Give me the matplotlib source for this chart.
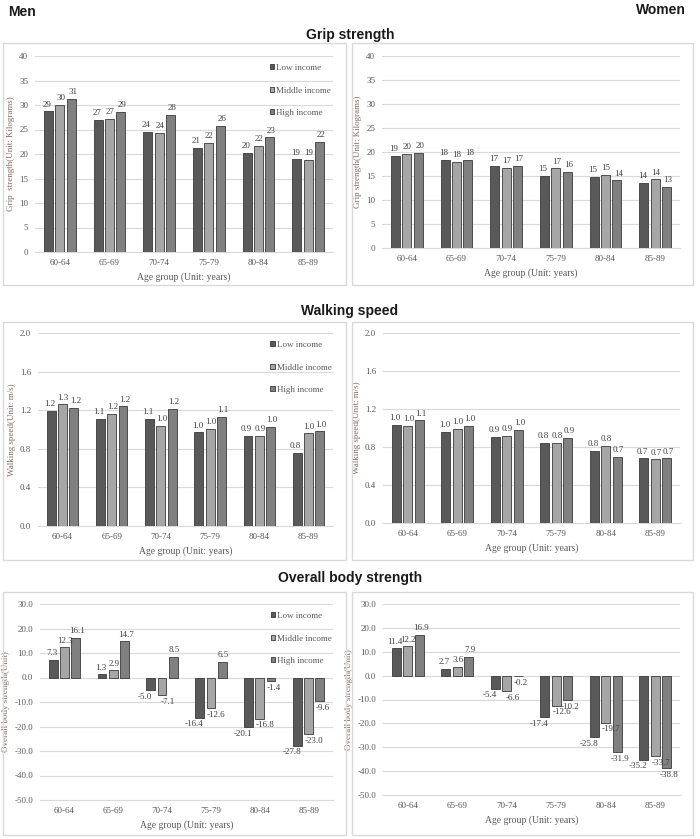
import numpy as np
import matplotlib
matplotlib.use("Agg")
import matplotlib.pyplot as plt
from matplotlib.patches import Rectangle

ages = ["60-64", "65-69", "70-74", "75-79", "80-84", "85-89"]
series = ["Low income", "Middle income", "High income"]

grip_men_low = [28.7, 27.0, 24.5, 21.3, 20.2, 18.9]
grip_men_mid = [30.0, 27.2, 24.3, 22.3, 21.6, 18.8]
grip_men_high = [31.2, 28.6, 28.0, 25.8, 23.4, 22.4]
grip_women_low = [19.2, 18.4, 17.1, 15.1, 14.8, 13.6]
grip_women_mid = [19.6, 17.9, 16.7, 16.6, 15.2, 14.3]
grip_women_high = [19.8, 18.4, 17.1, 15.9, 14.1, 12.7]

walk_men_low = [1.19, 1.11, 1.11, 0.97, 0.93, 0.76]
walk_men_mid = [1.26, 1.16, 1.04, 1.01, 0.93, 0.96]
walk_men_high = [1.22, 1.24, 1.21, 1.13, 1.03, 0.98]
walk_women_low = [1.03, 0.96, 0.91, 0.84, 0.76, 0.68]
walk_women_mid = [1.02, 0.99, 0.92, 0.84, 0.81, 0.67]
walk_women_high = [1.08, 1.02, 0.98, 0.90, 0.70, 0.68]

body_men_low = [7.3, 1.3, -5.0, -16.4, -20.1, -27.8]
body_men_mid = [12.3, 2.9, -7.1, -12.6, -16.8, -23.0]
body_men_high = [16.1, 14.7, 8.5, 6.5, -1.4, -9.6]
body_women_low = [11.4, 2.7, -5.4, -17.4, -25.8, -35.2]
body_women_mid = [12.2, 3.6, -6.6, -12.6, -19.7, -33.7]
body_women_high = [16.9, 7.9, -0.2, -10.2, -31.9, -38.8]

colors = ["#595959", "#a6a6a6", "#808080"]
serif = "Liberation Serif"
W, H = 700, 839

fig = plt.figure(figsize=(7, 8.39), dpi=100)


def px_axes(x0, y0, x1, y1):
    return fig.add_axes([x0 / W, 1 - y1 / H, (x1 - x0) / W, (y1 - y0) / H])


def box(x0, y0, x1, y1):
    fig.patches.append(Rectangle((x0 / W, 1 - y1 / H), (x1 - x0) / W, (y1 - y0) / H,
                                 transform=fig.transFigure, fill=False,
                                 edgecolor="#d9d9d9", linewidth=1.0))


def panel(ax, data, ylim, yticks, fmt, ylabel, legend=False):
    x = np.arange(len(ages))
    w, off = 0.18, 0.23
    pos_dx = [-1, 0.5, 1]
    neg_dx = [-4, 4, 2]  # negative labels get nudged apart a bit
    for i, vals in enumerate(data):
        bars = ax.bar(x + (i - 1) * off, vals, w, color=colors[i],
                      edgecolor="#3a3a3a", linewidth=0.6, label=series[i], zorder=3)
        for b, v in zip(bars, vals):
            xc = b.get_x() + b.get_width() / 2
            if v >= 0:
                ax.annotate(fmt.format(v), (xc, v), xytext=(pos_dx[i], 2), textcoords="offset points",
                            ha="center", va="bottom", fontsize=6.5, family=serif, color="#404040",
                            zorder=6)
            else:
                ax.annotate(fmt.format(v), (xc, v), xytext=(neg_dx[i], -2), textcoords="offset points",
                            ha="center", va="top", fontsize=6.5, family=serif, color="#404040",
                            zorder=6)
    for s in ["top", "right", "left"]:
        ax.spines[s].set_visible(False)
    ax.spines["bottom"].set_color("#d9d9d9")
    ax.set_xlim(-0.5, len(ages) - 0.5)
    ax.set_ylim(*ylim)
    ax.set_yticks(yticks)
    ax.set_yticklabels([fmt.format(t) for t in yticks], family=serif, fontsize=6.5, color="#595959")
    ax.set_xticks(x)
    ax.set_xticklabels(ages, family=serif, fontsize=6.5, color="#595959")
    ax.tick_params(length=0, pad=5)
    ax.grid(axis="y", color="#d9d9d9", linewidth=0.8, zorder=0)
    ax.set_xlabel("Age group (Unit: years)", family=serif, fontsize=7, color="#595959", labelpad=4)
    ax.set_ylabel(ylabel, family=serif, fontsize=6.5, color="#7f6a63", labelpad=3)
    if legend:
        ax.legend(loc="upper left", bbox_to_anchor=(0.76, 1.0), frameon=False,
                  prop={"family": serif, "size": 6.5}, labelcolor="#595959",
                  handlelength=0.5, handleheight=0.5, handletextpad=0.2, labelspacing=1.6)


# boxes around each panel
for y0, y1 in [(43, 285), (322, 560), (592, 835)]:
    box(3, y0, 346, y1)
    box(352, y0, 693, y1)

gl = px_axes(35, 56, 333, 252)
panel(gl, [grip_men_low, grip_men_mid, grip_men_high], (0, 40), np.arange(0, 41, 5),
      "{:.0f}", "Grip  strength(Unit: Kilograms)", legend=True)
gr = px_axes(382, 56, 680, 248)
panel(gr, [grip_women_low, grip_women_mid, grip_women_high], (0, 40), np.arange(0, 41, 5),
      "{:.0f}", "Grip strength(Unit: Kilograms)")

wl = px_axes(38, 333, 333, 526)
panel(wl, [walk_men_low, walk_men_mid, walk_men_high], (0, 2.0), np.arange(0, 2.01, 0.4),
      "{:.1f}", "Walking speed(Unit: m/s)", legend=True)
wr = px_axes(383, 333, 680, 523)
panel(wr, [walk_women_low, walk_women_mid, walk_women_high], (0, 2.0), np.arange(0, 2.01, 0.4),
      "{:.1f}", "Walking speed(Unit: m/s)")

bl = px_axes(40, 604, 333, 800)
panel(bl, [body_men_low, body_men_mid, body_men_high], (-50, 30), np.arange(-50, 31, 10),
      "{:.1f}", "Overall body strength(Unit)", legend=True)
br = px_axes(383, 604, 680, 795)
panel(br, [body_women_low, body_women_mid, body_women_high], (-50, 30), np.arange(-50, 31, 10),
      "{:.1f}", "Overall body strength(Unit)")

title_kw = dict(family="Liberation Sans", fontweight="bold", fontsize=10, color="#1a1a1a")
fig.text(8 / W, 1 - 12 / H, "Men", ha="left", va="center", **title_kw)
fig.text(686 / W, 1 - 10 / H, "Women", ha="right", va="center", **title_kw)
fig.text(350 / W, 1 - 35 / H, "Grip strength", ha="center", va="center", **title_kw)
fig.text(350 / W, 1 - 311 / H, "Walking speed", ha="center", va="center", **title_kw)
fig.text(350 / W, 1 - 578 / H, "Overall body strength", ha="center", va="center", **title_kw)

fig.savefig("out.png", dpi=100)
